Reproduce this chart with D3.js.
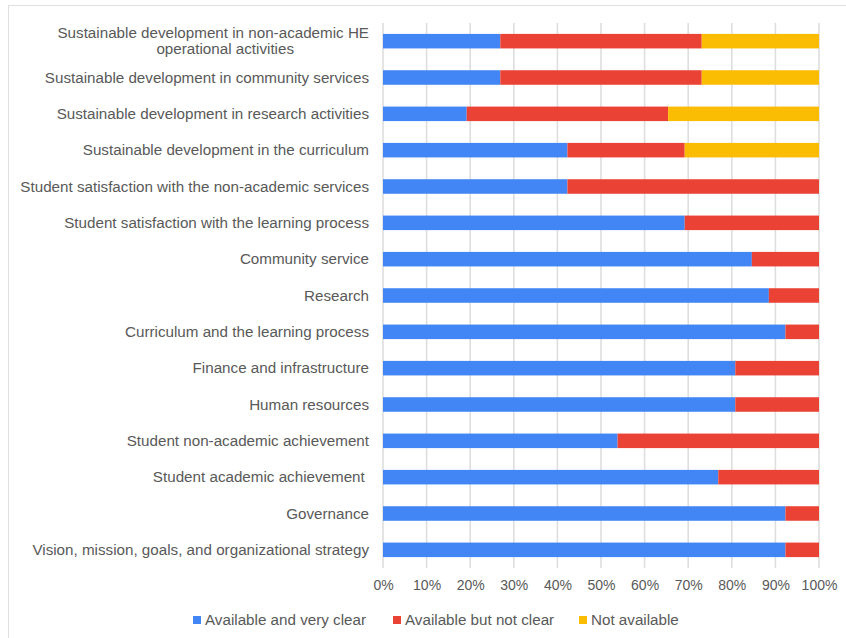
<!DOCTYPE html>
<html>
<head>
<meta charset="utf-8">
<script src="https://cdn.jsdelivr.net/npm/d3@7"></script>
<style>
  body { margin: 0; background: #fff; }
  svg text { font-family: "Liberation Sans", Arial, sans-serif; fill: #595959; white-space: pre; }
</style>
</head>
<body>
<div id="chart"></div>
<script>
const categories = [
  "Sustainable development in non-academic HE\noperational activities",
  "Sustainable development in community services",
  "Sustainable development in research activities",
  "Sustainable development in the curriculum",
  "Student satisfaction with the non-academic services",
  "Student satisfaction with the learning process",
  "Community service",
  "Research",
  "Curriculum and the learning process",
  "Finance and infrastructure",
  "Human resources",
  "Student non-academic achievement",
  "Student academic achievement ",
  "Governance",
  "Vision, mission, goals, and organizational strategy"
];
const seriesNames = ["Available and very clear", "Available but not clear", "Not available"];
const veryClear = [26.9, 26.9, 19.2, 42.3, 42.3, 69.2, 84.6, 88.5, 92.3, 80.8, 80.8, 53.8, 76.9, 92.3, 92.3];
const notClear  = [46.2, 46.2, 46.2, 26.9, 57.7, 30.8, 15.4, 11.5, 7.7, 19.2, 19.2, 46.2, 23.1, 7.7, 7.7];
const notAvail  = [26.9, 26.9, 34.6, 30.8, 0, 0, 0, 0, 0, 0, 0, 0, 0, 0, 0];
const tickValues = [0, 10, 20, 30, 40, 50, 60, 70, 80, 90, 100];
const colors = ["#4285F4", "#EA4335", "#FBBC04"];

const W = 846, H = 638;
const margin = {top: 23, right: 27, bottom: 70, left: 383};
const labelSize = 15.2;

const svg = d3.select("#chart").append("svg")
  .attr("width", W).attr("height", H);

// outer frame
svg.append("rect")
  .attr("x", 8.5).attr("y", 5.5)
  .attr("width", W + 10).attr("height", H + 10)
  .attr("fill", "none").attr("stroke", "#e0e0e0");

const rows = categories.map((c, i) => ({cat: c, v0: veryClear[i], v1: notClear[i], v2: notAvail[i]}));

const x = d3.scaleLinear().domain([0, 100]).range([margin.left, W - margin.right]);
const y = d3.scaleBand().domain(categories)
  .range([margin.top, H - margin.bottom])
  .paddingInner(0.6).paddingOuter(0.3);

// gridlines
svg.append("g").selectAll("line")
  .data(tickValues).enter().append("line")
  .attr("x1", d => x(d)).attr("x2", d => x(d))
  .attr("y1", margin.top).attr("y2", H - margin.bottom)
  .attr("stroke", "#dedede").attr("stroke-width", 1.6);

const stack = d3.stack().keys(["v0", "v1", "v2"])(rows);

svg.append("g").selectAll("g")
  .data(stack).enter().append("g")
  .attr("fill", (d, i) => colors[i])
  .selectAll("rect")
  .data(d => d).enter().append("rect")
  .attr("x", d => x(d[0]))
  .attr("width", d => x(d[1]) - x(d[0]))
  .attr("y", d => y(d.data.cat))
  .attr("height", y.bandwidth());

// x axis labels
const xAxis = svg.append("g")
  .attr("transform", `translate(0,${H - margin.bottom})`)
  .call(d3.axisBottom(x).tickValues(tickValues).tickFormat(d => d + "%").tickSize(0).tickPadding(12));
xAxis.select(".domain").remove();
xAxis.selectAll("text").attr("font-size", 14).style("font-family", "Liberation Sans, Arial, sans-serif").attr("fill", "#595959");

// category labels
const labels = svg.append("g").selectAll("text")
  .data(categories).enter().append("text")
  .attr("font-size", labelSize)
  .attr("text-anchor", "end");
labels.each(function(d) {
  const t = d3.select(this);
  const lines = d.split("\n");
  const cy = y(d) + y.bandwidth() / 2;
  if (lines.length === 1) {
    t.attr("x", 369).attr("y", cy).attr("dy", "0.35em").text(d);
  } else {
    t.attr("x", 369).attr("y", cy - 8).attr("dy", "0.35em").text(lines[0]);
    const w = this.getComputedTextLength();
    svg.append("text").attr("font-size", labelSize).attr("text-anchor", "middle")
      .attr("x", 369 - w / 2 + 12).attr("y", cy + 8).attr("dy", "0.35em").text(lines[1]);
  }
});

// legend
const legendX = [193, 393, 579];
const legend = svg.append("g").selectAll("g")
  .data(seriesNames).enter().append("g")
  .attr("transform", (d, i) => `translate(${legendX[i]},620)`);
legend.append("rect").attr("x", 0).attr("y", -4).attr("width", 8).attr("height", 8)
  .attr("fill", (d, i) => colors[i]);
legend.append("text").attr("x", 12).attr("y", 0).attr("dy", "0.35em")
  .attr("font-size", labelSize).text(d => d);
</script>
</body>
</html>
